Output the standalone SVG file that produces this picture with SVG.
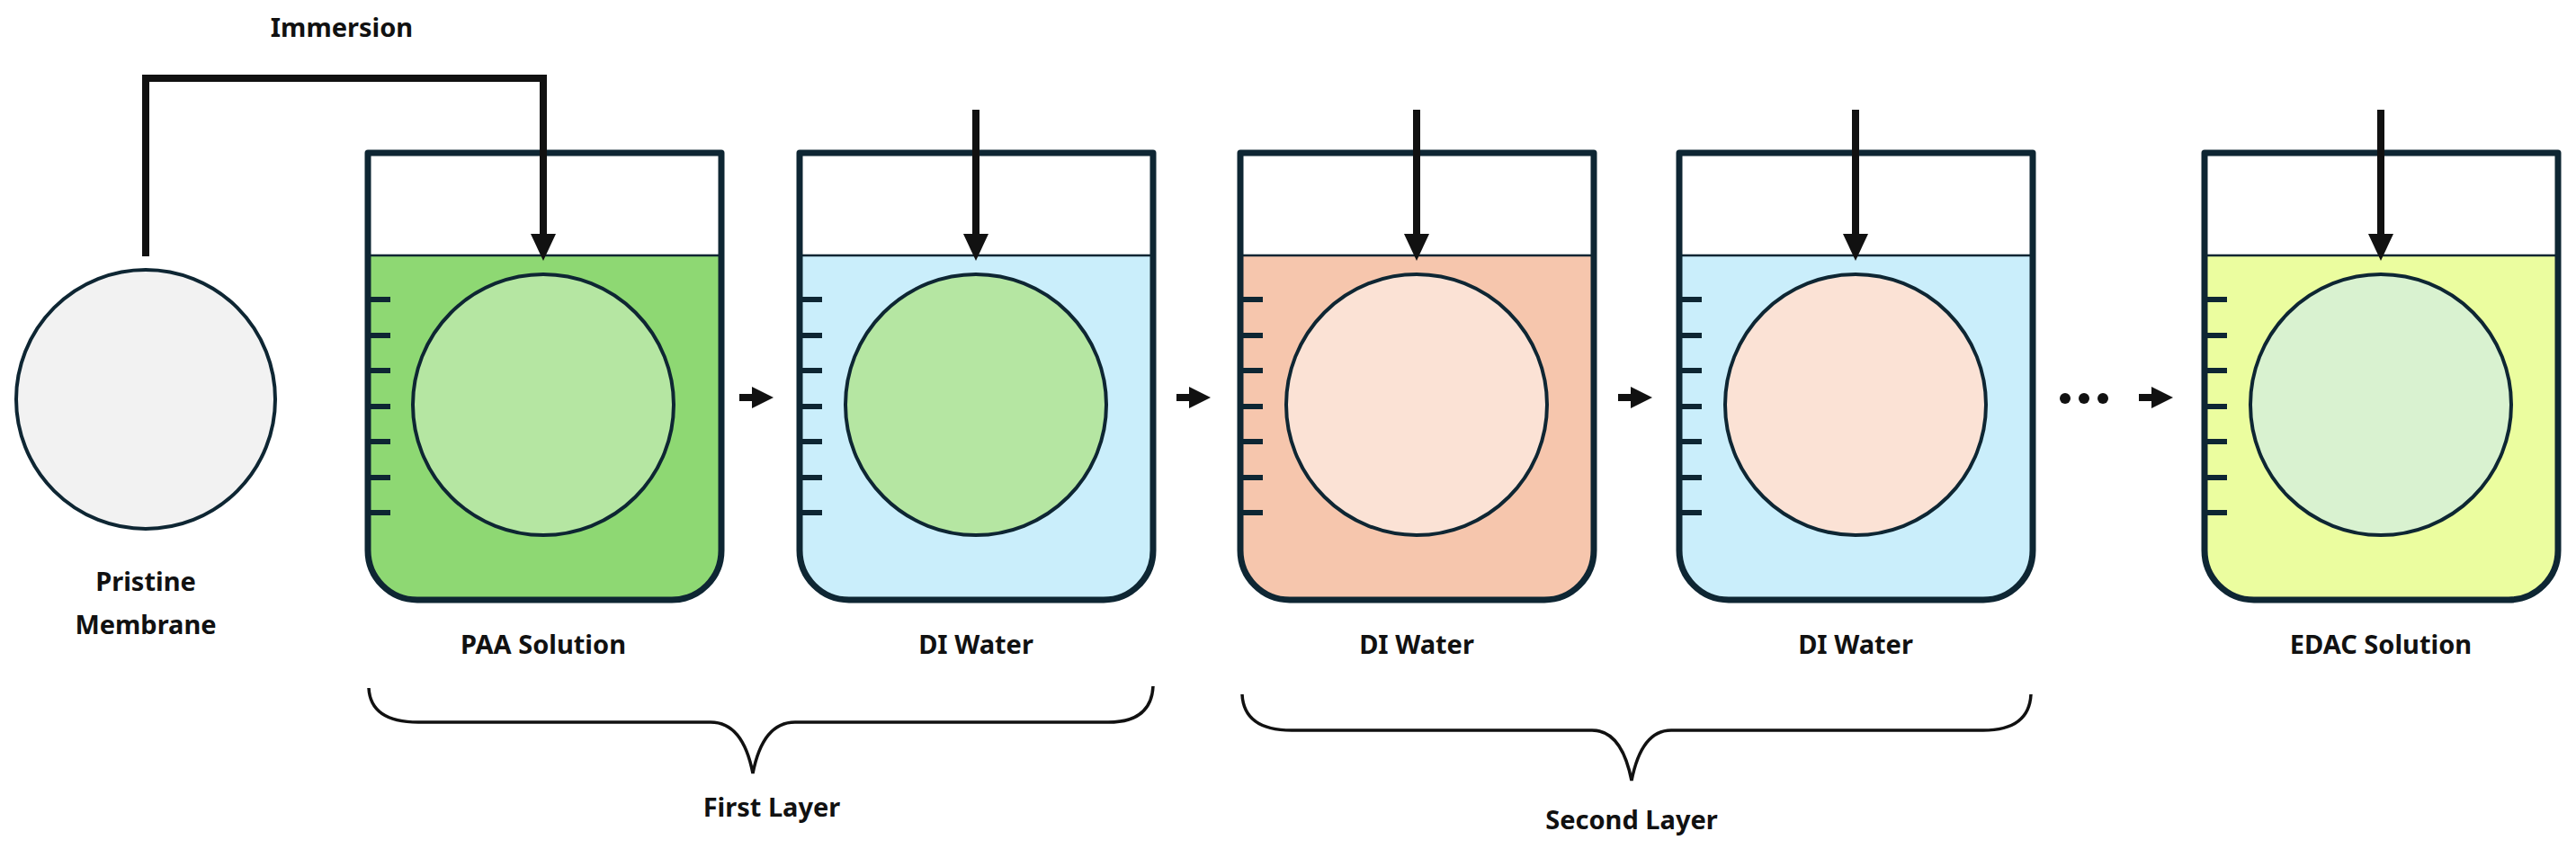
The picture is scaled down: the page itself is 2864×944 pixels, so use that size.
<svg xmlns="http://www.w3.org/2000/svg" width="2864" height="944" viewBox="0 0 2864 944">
<style>
.out{fill:none;stroke:#0e2633;stroke-width:7;stroke-linejoin:round}
.wl{stroke:#0e2633;stroke-width:2.5}
.tk{stroke:#0e2633;stroke-width:6}
.mem{stroke:#0e2633;stroke-width:4}
.arr{fill:none;stroke:#111;stroke-width:8}
.br{fill:none;stroke:#111;stroke-width:3.5}
text{font-family:"Noto Sans","Open Sans",sans-serif;font-weight:700;font-size:29px;fill:#111;text-anchor:middle}
</style>
<defs>
<marker id="ah" markerUnits="userSpaceOnUse" viewBox="0 0 30 28" refX="4" refY="14" markerWidth="30" markerHeight="28" orient="auto"><path d="M0,0 L30,14 L0,28 Z" fill="#111"/></marker>
<marker id="ahs" markerUnits="userSpaceOnUse" viewBox="0 0 24 24" refX="4" refY="12" markerWidth="24" markerHeight="24" orient="auto"><path d="M0,0 L24,12 L0,24 Z" fill="#111"/></marker>
<g id="ticks"><path class="tk" d="M0,333H25M0,373H25M0,412H25M0,452H25M0,491H25M0,531H25M0,570H25"/></g>
</defs>
<g id="pristine">
<ellipse cx="162" cy="444" rx="144" ry="144" fill="#f2f2f2" class="mem"/>
<text x="162" y="657">Pristine</text>
<text x="162" y="705">Membrane</text>
</g>
<g id="b1" transform="translate(409,0)">
<path d="M0,284H393V612A55,55 0 0 1 338,667H55A55,55 0 0 1 0,612Z" fill="#8ed873"/>
<line class="wl" x1="0" y1="284" x2="393" y2="284"/>
<use href="#ticks"/>
<ellipse cx="195" cy="450" rx="145" ry="145" fill="#b5e6a2" class="mem"/>
<path class="out" d="M0,170H393V612A55,55 0 0 1 338,667H55A55,55 0 0 1 0,612Z"/>
<text x="195" y="727">PAA Solution</text>
</g>
<g id="b2" transform="translate(889,0)">
<path d="M0,284H393V612A55,55 0 0 1 338,667H55A55,55 0 0 1 0,612Z" fill="#caeefb"/>
<line class="wl" x1="0" y1="284" x2="393" y2="284"/>
<use href="#ticks"/>
<ellipse cx="196" cy="450" rx="145" ry="145" fill="#b5e6a2" class="mem"/>
<path class="out" d="M0,170H393V612A55,55 0 0 1 338,667H55A55,55 0 0 1 0,612Z"/>
<text x="196" y="727">DI Water</text>
</g>
<g id="b3" transform="translate(1379,0)">
<path d="M0,284H393V612A55,55 0 0 1 338,667H55A55,55 0 0 1 0,612Z" fill="#f6c6ad"/>
<line class="wl" x1="0" y1="284" x2="393" y2="284"/>
<use href="#ticks"/>
<ellipse cx="196" cy="450" rx="145" ry="145" fill="#fbe2d5" class="mem"/>
<path class="out" d="M0,170H393V612A55,55 0 0 1 338,667H55A55,55 0 0 1 0,612Z"/>
<text x="196" y="727">DI Water</text>
</g>
<g id="b4" transform="translate(1867,0)">
<path d="M0,284H393V612A55,55 0 0 1 338,667H55A55,55 0 0 1 0,612Z" fill="#caeefb"/>
<line class="wl" x1="0" y1="284" x2="393" y2="284"/>
<use href="#ticks"/>
<ellipse cx="196" cy="450" rx="145" ry="145" fill="#fbe2d5" class="mem"/>
<path class="out" d="M0,170H393V612A55,55 0 0 1 338,667H55A55,55 0 0 1 0,612Z"/>
<text x="196" y="727">DI Water</text>
</g>
<g id="b5" transform="translate(2451,0)">
<path d="M0,284H393V612A55,55 0 0 1 338,667H55A55,55 0 0 1 0,612Z" fill="#ebfd9f"/>
<line class="wl" x1="0" y1="284" x2="393" y2="284"/>
<use href="#ticks"/>
<ellipse cx="196" cy="450" rx="145" ry="145" fill="#d9f2d0" class="mem"/>
<path class="out" d="M0,170H393V612A55,55 0 0 1 338,667H55A55,55 0 0 1 0,612Z"/>
<text x="196" y="727">EDAC Solution</text>
</g>
<g id="connectors">
<path class="arr" d="M162,285V87H604V264" marker-end="url(#ah)"/>
<path class="arr" d="M1085,122V264" marker-end="url(#ah)"/>
<path class="arr" d="M1575,122V264" marker-end="url(#ah)"/>
<path class="arr" d="M2063,122V264" marker-end="url(#ah)"/>
<path class="arr" d="M2647,122V264" marker-end="url(#ah)"/>
<path class="arr" d="M822,442H840" marker-end="url(#ahs)"/>
<path class="arr" d="M1308,442H1326" marker-end="url(#ahs)"/>
<path class="arr" d="M1799,442H1817" marker-end="url(#ahs)"/>
<path class="arr" d="M2378,442H2396" marker-end="url(#ahs)"/>
</g>
<g id="dots" fill="#111"><circle cx="2296" cy="443" r="6"/><circle cx="2317" cy="443" r="6"/><circle cx="2338" cy="443" r="6"/></g>
<text x="380" y="41">Immersion</text>
<g id="brace1">
<path class="br" d="M410,765Q412,803 465,803H790Q826,803 837,860Q848,803 884,803H1232Q1280,803 1282,763"/>
<text x="858" y="908">First Layer</text>
</g>
<g id="brace2">
<path class="br" d="M1381,772Q1383,812 1436,812H1770Q1803,812 1814,868Q1825,812 1858,812H2205Q2256,812 2258,772"/>
<text x="1814" y="922">Second Layer</text>
</g>
</svg>
